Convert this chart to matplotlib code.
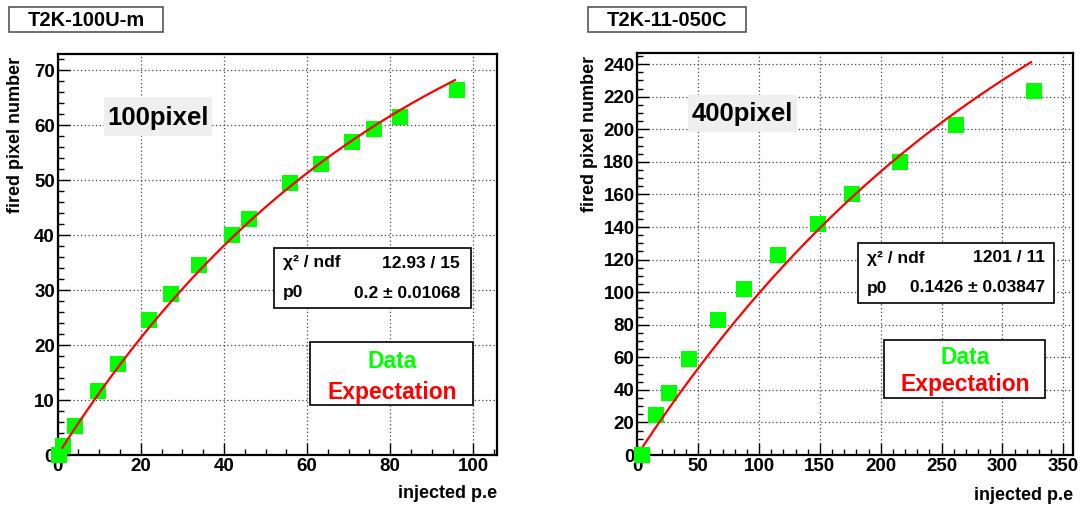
import numpy as np
import matplotlib
matplotlib.use("Agg")
import matplotlib.pyplot as plt
from matplotlib.patches import Rectangle

# measured points for the two sensors
x_100u = [0.4, 1.35, 4.25, 9.8, 14.6, 22.05, 27.3, 34.1, 41.9, 46.1, 56.0, 63.3, 70.8, 76.0, 82.4, 96.0]
y_100u = [0.0, 1.7, 5.3, 11.7, 16.5, 24.6, 29.3, 34.5, 40.0, 42.9, 49.5, 53.0, 56.9, 59.3, 61.6, 66.4]

x_050c = [3.6, 15.6, 26.0, 42.7, 66.6, 87.9, 115.9, 148.2, 176.4, 215.8, 261.8, 325.7]
y_050c = [0.0, 24.6, 38.3, 58.8, 82.9, 101.8, 122.7, 141.9, 160.2, 179.8, 202.7, 223.8]

# fit results
npix = [100, 400]
p0 = [0.2, 0.1426]
p0_err = ["0.01068", "0.03847"]
chi2 = ["12.93 / 15", "1201 / 11"]
fit_range = [(1.1, 95.6), (4.9, 323.5)]
names = ["T2K-100U-m", "T2K-11-050C"]
pix_labels = ["100pixel", "400pixel"]

W, H = 1086, 508
plt.rcParams['font.family'] = ['Liberation Sans', 'DejaVu Sans']
plt.rcParams['font.weight'] = 'bold'

fig = plt.figure(figsize=(W / 100, H / 100), dpi=100)


def fx(x):
    return x / W


def fy(y):
    return 1 - y / H


def box(x0, y0, x1, y1, **kw):
    fig.add_artist(Rectangle((fx(x0), fy(y1)), fx(x1) - fx(x0), fy(y0) - fy(y1),
                             transform=fig.transFigure, **kw))


def expectation(x, n, p):
    return n * (1 - np.exp(-(1 + p) * x / n))


panels = [
    dict(rect=(57.7, 54, 497, 455), xlim=(0, 105.7), ylim=(0, 73.0),
         xmaj=20, xmin=5, ymaj=10, ymin=2, x=x_100u, y=y_100u,
         title=(9, 7, 163, 32), ylab=16, xlab_y=493,
         tag=(104, 97, 212, 136),
         stats=(274, 248, 471, 308), rows=(263, 293), cols=(283, 460),
         leg=(310, 342, 473, 405), leg_rows=(362, 392), leg_cx=392),
    dict(rect=(637.3, 53.3, 1073.3, 455), xlim=(0, 358.2), ylim=(0, 246.7),
         xmaj=50, xmin=10, ymaj=20, ymin=5, x=x_050c, y=y_050c,
         title=(588, 7, 746, 32), ylab=589, xlab_y=496,
         tag=(688, 95, 797, 132),
         stats=(858, 243, 1054, 303), rows=(258, 288), cols=(867, 1045),
         leg=(884, 340, 1045, 398), leg_rows=(358, 384), leg_cx=965),
]

for i, p in enumerate(panels):
    l, t, r, b = p['rect']
    ax = fig.add_axes([fx(l), fy(b), fx(r) - fx(l), fy(t) - fy(b)])
    ax.set_xlim(*p['xlim'])
    ax.set_ylim(*p['ylim'])
    ax.set_xticks(np.arange(0, p['xlim'][1], p['xmaj']))
    ax.set_xticks(np.arange(0, p['xlim'][1], p['xmin']), minor=True)
    ax.set_yticks(np.arange(0, p['ylim'][1], p['ymaj']))
    ax.set_yticks(np.arange(0, p['ylim'][1], p['ymin']), minor=True)
    ax.tick_params(which='both', direction='in', top=False, right=False,
                   labelsize=13.5, width=1)
    ax.tick_params(which='major', length=8.6, pad=2)
    ax.tick_params(which='minor', length=4.3)
    for lab in ax.get_xticklabels() + ax.get_yticklabels():
        lab.set_fontweight('bold')
    for s in ax.spines.values():
        s.set_linewidth(1.6)
    ax.grid(True, which='major', color='#444444', linestyle=(0, (1, 2)), linewidth=0.9)
    ax.set_axisbelow(True)

    ax.plot(p['x'], p['y'], 's', color='#00ff00', markersize=12, markeredgewidth=0,
            clip_on=False, zorder=5)
    xs = np.linspace(fit_range[i][0], fit_range[i][1], 200)
    ax.plot(xs, expectation(xs, npix[i], p0[i]), color='#ff0000', linewidth=1.6, zorder=6)

    # title box
    x0, y0, x1, y1 = p['title']
    box(x0, y0, x1, y1, facecolor='white', edgecolor='#555555', linewidth=1.2)
    fig.text(fx((x0 + x1) / 2), fy((y0 + y1) / 2 + 1), names[i], ha='center', va='center',
             fontsize=14.5, fontweight='bold')

    # axis titles
    fig.text(fx(p['ylab']), fy(t + 3), "fired pixel number", rotation=90, ha='center',
             va='top', fontsize=13, fontweight='bold')
    fig.text(fx(r), fy(p['xlab_y']), "injected p.e", ha='right', va='center',
             fontsize=13, fontweight='bold')

    # pixel count tag
    x0, y0, x1, y1 = p['tag']
    box(x0, y0, x1, y1, facecolor='#efefef', edgecolor='none', zorder=3)
    fig.text(fx((x0 + x1) / 2), fy((y0 + y1) / 2 + 1), pix_labels[i], ha='center',
             va='center', fontsize=18.5, fontweight='bold', zorder=4)

    # fit statistics
    x0, y0, x1, y1 = p['stats']
    box(x0, y0, x1, y1, facecolor='white', edgecolor='black', linewidth=1.2, zorder=3)
    c0, c1 = p['cols']
    fig.text(fx(c0), fy(p['rows'][0]), "χ² / ndf", ha='left', va='center',
             fontsize=12.5, fontweight='bold', zorder=4)
    fig.text(fx(c1), fy(p['rows'][0]), chi2[i], ha='right', va='center',
             fontsize=12.5, fontweight='bold', zorder=4)
    fig.text(fx(c0), fy(p['rows'][1]), "p0", ha='left', va='center',
             fontsize=12.5, fontweight='bold', zorder=4)
    fig.text(fx(c1), fy(p['rows'][1]), f"{p0[i]:g} ± {p0_err[i]}", ha='right',
             va='center', fontsize=12.5, fontweight='bold', zorder=4)

    # legend
    x0, y0, x1, y1 = p['leg']
    box(x0, y0, x1, y1, facecolor='white', edgecolor='black', linewidth=1.2, zorder=3)
    fig.text(fx(p['leg_cx']), fy(p['leg_rows'][0]), "Data", ha='center', va='center',
             fontsize=16.5, fontweight='bold', color='#00ff00', zorder=4)
    fig.text(fx(p['leg_cx']), fy(p['leg_rows'][1]), "Expectation", ha='center',
             va='center', fontsize=16.5, fontweight='bold', color='#ff0000', zorder=4)

fig.savefig("out.png", dpi=100)
